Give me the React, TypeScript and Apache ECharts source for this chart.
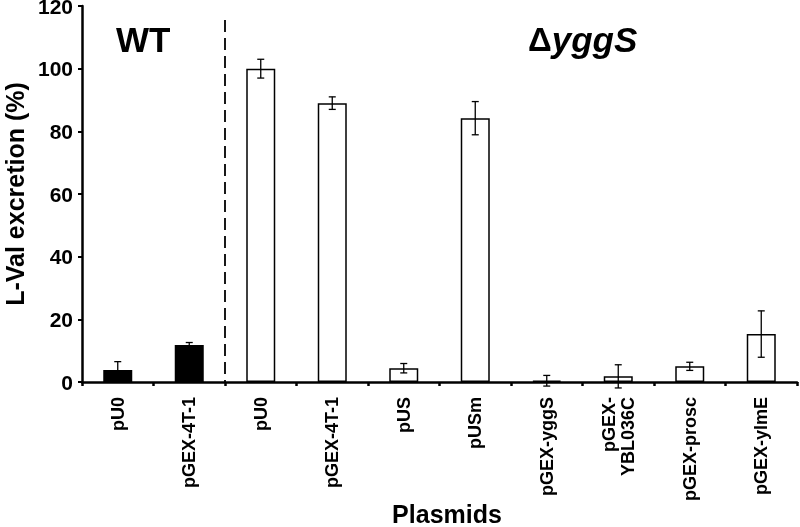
import React, { useEffect, useRef } from "react";
import * as echarts from "echarts";

const categories = ["pU0", "pGEX-4T-1", "pU0", "pGEX-4T-1", "pUS", "pUSm", "pGEX-yggS", "pGEX-\nYBL036C", "pGEX-prosc", "pGEX-ylmE"];
const values = [3.8, 11.8, 100, 89, 4.4, 84.2, 0.4, 1.8, 5.0, 15.3];
const errors = [2.7, 0.8, 3.0, 2.0, 1.5, 5.3, 1.7, 3.7, 1.3, 7.4];
const groups = ["WT", "WT", "ΔyggS", "ΔyggS", "ΔyggS", "ΔyggS", "ΔyggS", "ΔyggS", "ΔyggS", "ΔyggS"];
const yTicks = [0, 20, 40, 60, 80, 100, 120];

const FONT = "'Liberation Sans', Arial, sans-serif";

export default function App() {
  const ref = useRef<HTMLDivElement>(null);
  useEffect(() => {
    if (!ref.current) return;
    const chart = echarts.init(ref.current, undefined, { renderer: "svg" });
    const barData = values.map((v, i) => ({
      value: v,
      itemStyle: {
        color: groups[i] === "WT" ? "#000" : "#fff",
        borderColor: "#000",
        borderWidth: 1.5,
      },
    }));
    const errData = values.map((v, i) => [i, v - errors[i], v + errors[i]]);
    chart.setOption({
      animation: false,
      grid: { left: 82, right: 3, top: 6, bottom: 145, outerBoundsMode: "none", containLabel: false },
      xAxis: {
        type: "category",
        data: categories,
        axisLine: { lineStyle: { color: "#000", width: 2.5 } },
        axisTick: { show: true, length: 4, lineStyle: { color: "#000", width: 2.5 } },
        axisLabel: {
          rotate: 90,
          interval: 0,
          margin: 15,
          fontFamily: FONT,
          fontWeight: "bold",
          fontSize: 18,
          color: "#000",
          lineHeight: 19,
        },
      },
      yAxis: {
        type: "value",
        min: yTicks[0],
        max: yTicks[yTicks.length - 1],
        interval: 20,
        name: "L-Val excretion (%)",
        nameLocation: "middle",
        nameGap: 55,
        nameTextStyle: { fontFamily: FONT, fontWeight: "bold", fontSize: 25, color: "#000" },
        splitLine: { show: false },
        axisLine: { show: true, lineStyle: { color: "#000", width: 2.5 } },
        axisTick: { show: true, length: 4, lineStyle: { color: "#000", width: 2 } },
        axisLabel: { fontFamily: FONT, fontWeight: "bold", fontSize: 21, color: "#000", margin: 9 },
      },
      series: [
        {
          type: "bar",
          data: barData,
          barWidth: 29,
          z: 2,
        },
        {
          type: "custom",
          z: 5,
          data: errData,
          renderItem: (params: any, api: any) => {
            const x = api.coord([api.value(0), 0])[0];
            const lo = api.coord([api.value(0), api.value(1)])[1];
            const hi = api.coord([api.value(0), api.value(2)])[1];
            const hw = 3.5;
            const st = { stroke: "#000", lineWidth: 1.3 };
            return {
              type: "group",
              children: [
                { type: "line", shape: { x1: x, y1: lo, x2: x, y2: hi }, style: st },
                { type: "line", shape: { x1: x - hw, y1: lo, x2: x + hw, y2: lo }, style: st },
                { type: "line", shape: { x1: x - hw, y1: hi, x2: x + hw, y2: hi }, style: st },
              ],
            };
          },
        },
      ],
      graphic: [
        {
          id: "wt",
          type: "text",
          left: 116,
          top: 22,
          style: { text: "WT", fontFamily: FONT, fontWeight: "bold", fontSize: 35, fill: "#000" },
        },
        {
          id: "mut",
          type: "text",
          left: 528,
          top: 22,
          style: {
            text: "{a|Δ}{b|yggS}",
            rich: {
              a: { fontFamily: FONT, fontWeight: "bold", fontSize: 33, fill: "#000" },
              b: { fontFamily: FONT, fontWeight: "bold", fontStyle: "italic", fontSize: 35, fill: "#000" },
            },
          },
        },
        {
          id: "xname",
          type: "text",
          x: 447,
          y: 514,
          style: {
            text: "Plasmids",
            fontFamily: FONT,
            fontWeight: "bold",
            fontSize: 25,
            fill: "#000",
            align: "center",
            verticalAlign: "middle",
          },
        },
      ],
    });
    // divider between WT and ΔyggS groups, placed from axis scale
    const x1 = chart.convertToPixel({ xAxisIndex: 0 }, 1) as number;
    const x2 = chart.convertToPixel({ xAxisIndex: 0 }, 2) as number;
    const xd = (x1 + x2) / 2;
    const yTop = chart.convertToPixel({ yAxisIndex: 0 }, 115.5) as number;
    const yBot = chart.convertToPixel({ yAxisIndex: 0 }, 0) as number;
    chart.setOption({
      graphic: [
        {
          id: "divider",
          type: "line",
          shape: { x1: xd, y1: yTop, x2: xd, y2: yBot },
          style: { stroke: "#000", lineWidth: 1.8, lineDash: [12, 6] },
          z: 1,
        },
      ],
    });
    return () => chart.dispose();
  }, []);
  return <div ref={ref} style={{ position: "fixed", left: 0, top: 0, width: 800, height: 527 }} />;
}
